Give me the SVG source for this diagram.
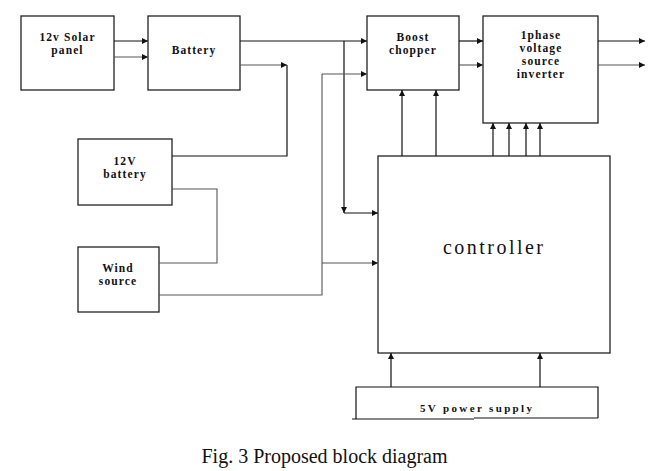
<svg xmlns="http://www.w3.org/2000/svg" width="655" height="471" viewBox="0 0 655 471">
<style>
.box{fill:#fff;stroke:#222;stroke-width:1.3}
.t{font-family:"Liberation Serif","Times New Roman",serif;font-size:11.5px;font-weight:bold;letter-spacing:1.1px;fill:#111;text-anchor:middle}
.w{fill:none;stroke:#111;stroke-width:1.2}
.g{fill:none;stroke:#555;stroke-width:1.1}
</style>
<defs>
<marker id="a" viewBox="0 0 10 10" refX="10" refY="5" markerWidth="9" markerHeight="6" markerUnits="userSpaceOnUse" orient="auto">
<path d="M0,0 L10,5 L0,10 z" fill="#111"/>
</marker>
</defs>
<rect width="655" height="471" fill="#fff"/>
<g id="solar"><rect class="box" x="21" y="16" width="93" height="74"/>
<text class="t" x="67.5" y="41">12v Solar</text>
<text class="t" x="67.5" y="54">panel</text></g>
<g id="battery"><rect class="box" x="148" y="16" width="92" height="74"/>
<text class="t" x="194" y="54">Battery</text></g>
<g id="boost"><rect class="box" x="367" y="16" width="92" height="74"/>
<text class="t" x="413" y="41">Boost</text>
<text class="t" x="413" y="54">chopper</text></g>
<g id="inverter"><rect class="box" x="483" y="16" width="115" height="107"/>
<text class="t" x="541" y="39">1phase</text>
<text class="t" x="541" y="52">voltage</text>
<text class="t" x="541" y="65">source</text>
<text class="t" x="541" y="78">inverter</text></g>
<g id="battery12"><rect class="box" x="78" y="139" width="94" height="66"/>
<text class="t" x="125" y="165">12V</text>
<text class="t" x="125" y="178">battery</text></g>
<g id="wind"><rect class="box" x="78" y="247" width="81" height="65"/>
<text class="t" x="118" y="272">Wind</text>
<text class="t" x="118" y="285">source</text></g>
<g id="controller"><rect class="box" x="378" y="156" width="232" height="197"/>
<text x="493" y="254" style="font-family:'Liberation Serif',serif;font-size:20px;fill:#111;text-anchor:middle" textLength="100" lengthAdjust="spacing">controller</text></g>
<g id="psu">
<path class="w" d="M356,419 V387 H598 V418"/>
<path class="w" d="M352,419 H474 M474,418 H598"/>
<text class="t" x="476" y="412" style="font-size:11px;letter-spacing:0" textLength="112" lengthAdjust="spacing">5V power supply</text></g>
<g id="connectors">
<path class="w" d="M114,41 H148" marker-end="url(#a)"/>
<path class="g" d="M114,57 H148" marker-end="url(#a)"/>
<path class="w" d="M240,41 H367" marker-end="url(#a)"/>
<path class="g" d="M240,65 H287" marker-end="url(#a)"/>
<path class="w" d="M172,156 H287 V65"/>
<path class="w" d="M344,41 V213" marker-end="url(#a)"/>
<path class="w" d="M344,213 H378" marker-end="url(#a)"/>
<path class="g" d="M322,74 H367" marker-end="url(#a)"/>
<path class="g" d="M159,295 H322 V74"/>
<path class="g" d="M322,263 H378" marker-end="url(#a)"/>
<path class="g" d="M172,189 H217 V263 H159"/>
<path class="w" d="M459,41 H483" marker-end="url(#a)"/>
<path class="g" d="M459,65 H483" marker-end="url(#a)"/>
<path class="w" d="M598,41 H645" marker-end="url(#a)"/>
<path class="g" d="M598,65 H645" marker-end="url(#a)"/>
<path class="w" d="M402,156 V90" marker-end="url(#a)"/>
<path class="w" d="M436,156 V90" marker-end="url(#a)"/>
<path class="w" d="M493,156 V123" marker-end="url(#a)"/>
<path class="w" d="M509,156 V123" marker-end="url(#a)"/>
<path class="w" d="M526,156 V123" marker-end="url(#a)"/>
<path class="w" d="M540,156 V123" marker-end="url(#a)"/>
<path class="w" d="M391,387 V353" marker-end="url(#a)"/>
<path class="w" d="M540,387 V353" marker-end="url(#a)"/>
</g>
<text x="324.5" y="463" style="font-family:'Liberation Serif',serif;font-size:20px;fill:#111;text-anchor:middle">Fig. 3 Proposed block diagram</text>
</svg>
